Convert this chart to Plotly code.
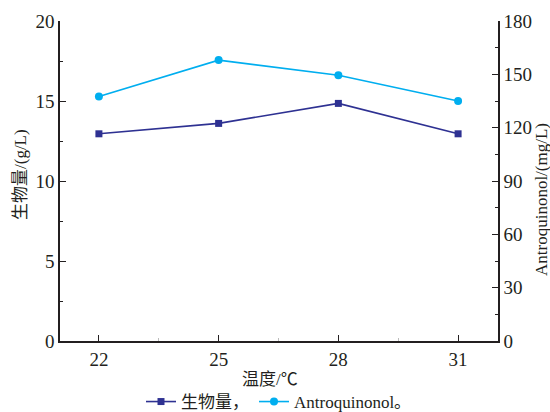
import plotly.graph_objects as go

# Culture temperature (°C) and measured responses
temperature = [22, 25, 28, 31]
biomass = [12.95, 13.6, 14.85, 12.95]          # g/L
antroquinonol = [137.5, 158.0, 149.5, 135.0]  # mg/L

left_ticks = [0, 5, 10, 15, 20]
right_ticks = [0, 30, 60, 90, 120, 150, 180]

SERIF = "'Liberation Serif', 'Noto Sans CJK SC', serif"
INK = "#231F20"
W, H = 550, 412
ML, MR, MT, MB = 60, 52, 21, 71

fig = go.Figure()
fig.add_trace(go.Scatter(
    x=temperature, y=biomass, name="生物量，", mode="lines+markers",
    line=dict(color="#2E3192", width=1.6),
    marker=dict(symbol="square", size=7, color="#2E3192"),
    yaxis="y",
))
fig.add_trace(go.Scatter(
    x=temperature, y=antroquinonol, name="Antroquinonol。", mode="lines+markers",
    line=dict(color="#00AEEF", width=1.6),
    marker=dict(symbol="circle", size=8, color="#00AEEF"),
    yaxis="y2",
))

axis_common = dict(
    showgrid=False, zeroline=False, showline=True, linecolor=INK, linewidth=1.5,
    ticks="inside", ticklen=6, tickwidth=1.2, tickcolor=INK,
    tickfont=dict(family=SERIF, size=19, color=INK),
)


def page_xy(px, py):
    """Convert page pixel coordinates into paper fractions."""
    return (px - ML) / (W - ML - MR), (H - MB - py) / (H - MT - MB)


titles = [
    ("温度/℃", 270, 379, 0),
    ("生物量/(g/L)", 20, 175, -90),
    ("Antroquinonol/(mg/L)", 541, 200, -90),
]
annotations = []
for text, px, py, ang in titles:
    ax, ay = page_xy(px, py)
    annotations.append(dict(
        text=text, x=ax, y=ay, xref="paper", yref="paper",
        xanchor="center", yanchor="middle", textangle=ang, showarrow=False,
        font=dict(family=SERIF, size=17, color=INK),
    ))

fig.update_layout(
    width=W, height=H,
    margin=dict(l=ML, r=MR, t=MT, b=MB, autoexpand=False),
    paper_bgcolor="white", plot_bgcolor="white",
    showlegend=True,
    legend=dict(
        orientation="h", x=0.5, xanchor="center",
        yref="container", y=(H - 402) / H, yanchor="middle",
        font=dict(family=SERIF, size=17, color=INK),
        itemwidth=30, tracegroupgap=0, bgcolor="rgba(0,0,0,0)",
    ),
    xaxis=dict(
        **axis_common,
        range=[21.025, 32.0], tickvals=temperature,
        ticktext=[str(t) for t in temperature],
        minor=dict(ticks="inside", ticklen=3, tickcolor="#BBBBBB", tick0=22, dtick=1.5),
    ),
    yaxis=dict(
        **axis_common,
        range=[0, 20], tickvals=left_ticks,
        minor=dict(ticks="inside", ticklen=3, tickcolor=INK, tick0=0, dtick=2.5),
    ),
    yaxis2=dict(
        **axis_common,
        overlaying="y", side="right", anchor="x",
        range=[0, 180], tickvals=right_ticks,
        minor=dict(ticks="inside", ticklen=3, tickcolor=INK, tick0=0, dtick=15),
    ),
    annotations=annotations,
)

fig.write_html("out.html")
